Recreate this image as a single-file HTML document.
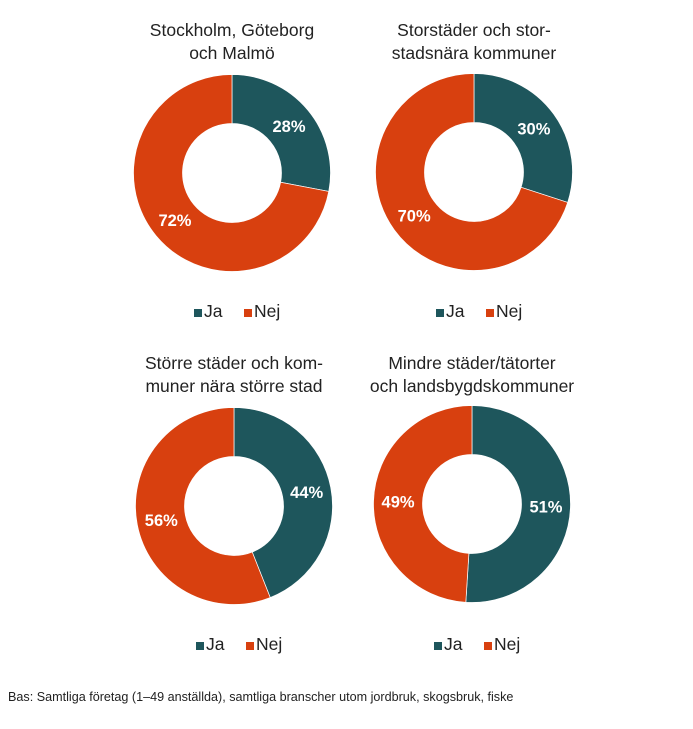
<!DOCTYPE html>
<html><head><meta charset="utf-8"><style>
body{margin:0;background:#fff;width:693px;height:724px;overflow:hidden;font-family:"Liberation Sans",sans-serif;}
</style></head><body>
<svg id="c" width="693" height="724" xmlns="http://www.w3.org/2000/svg">
<text x="8" y="701" font-size="12.6" fill="#222">Bas: Samtliga företag (1–49 anställda), samtliga branscher utom jordbruk, skogsbruk, fiske</text>
</svg>
<script>
const titles=[["Stockholm, Göteborg","och Malmö"],["Storstäder och stor-","stadsnära kommuner"],["Större städer och kom-","muner nära större stad"],["Mindre städer/tätorter","och landsbygdskommuner"]];
const jaValues=[28,30,44,51];
const nejValues=[72,70,56,49];
const seriesNames=["Ja","Nej"];
const colors=["#1e565c","#d8400f"];
const centers=[[232,173],[474,172],[234,506],[472,504]];
const R=98.5, r=49.5;
const svg=document.getElementById('c');
const NS="http://www.w3.org/2000/svg";
function pt(cx,cy,rad,frac){const a=frac*2*Math.PI-Math.PI/2;return [cx+rad*Math.cos(a),cy+rad*Math.sin(a)];}
function arc(cx,cy,f0,f1){
 const large=(f1-f0)>0.5?1:0;
 const [x0,y0]=pt(cx,cy,R,f0),[x1,y1]=pt(cx,cy,R,f1),[x2,y2]=pt(cx,cy,r,f1),[x3,y3]=pt(cx,cy,r,f0);
 return `M${x0},${y0}A${R},${R} 0 ${large} 1 ${x1},${y1}L${x2},${y2}A${r},${r} 0 ${large} 0 ${x3},${y3}Z`;
}
function mk(tag,attrs,txt){const e=document.createElementNS(NS,tag);for(const k in attrs)e.setAttribute(k,attrs[k]);if(txt!=null)e.textContent=txt;svg.appendChild(e);return e;}
const names=["storstad","storstadsnara","storre-stader","mindre-orter"];
for(let i=0;i<4;i++){
 const [cx,cy]=centers[i];
 const tyBase=i<2?36:369;
 titles[i].forEach((t,j)=>{
  const e=mk('text',{x:cx,y:tyBase+j*23,'text-anchor':'middle','font-size':'17.5',fill:'#222'},t);
  
  
 });
 const vals=[jaValues[i],nejValues[i]];
 const tot=vals[0]+vals[1];
 let f=0;
 vals.forEach((v,k)=>{
  const f1=f+v/tot;
  const p=mk('path',{d:arc(cx,cy,f,f1),fill:colors[k],stroke:'#fff','stroke-width':'0.7'});
  
  
  const [lx,ly]=pt(cx,cy,(R+r)/2,(f+f1)/2);
  const l=mk('text',{x:lx,y:ly+6,'text-anchor':'middle','font-size':'16.5','font-weight':'bold',fill:'#fff'},v+'%');
  
  
  f=f1;
 });
 const ly=i<2?316:649;
 [[-38,seriesNames[0]],[12,seriesNames[1]]].forEach(([dx,n],k)=>{
  const s=mk('rect',{x:cx+dx,y:ly-7,width:8,height:8,fill:colors[k]});
  
  
  const t=mk('text',{x:cx+dx+10,y:ly+1,'font-size':'17.5',fill:'#222'},n);
  
  
 });
}
</script>
</body></html>
